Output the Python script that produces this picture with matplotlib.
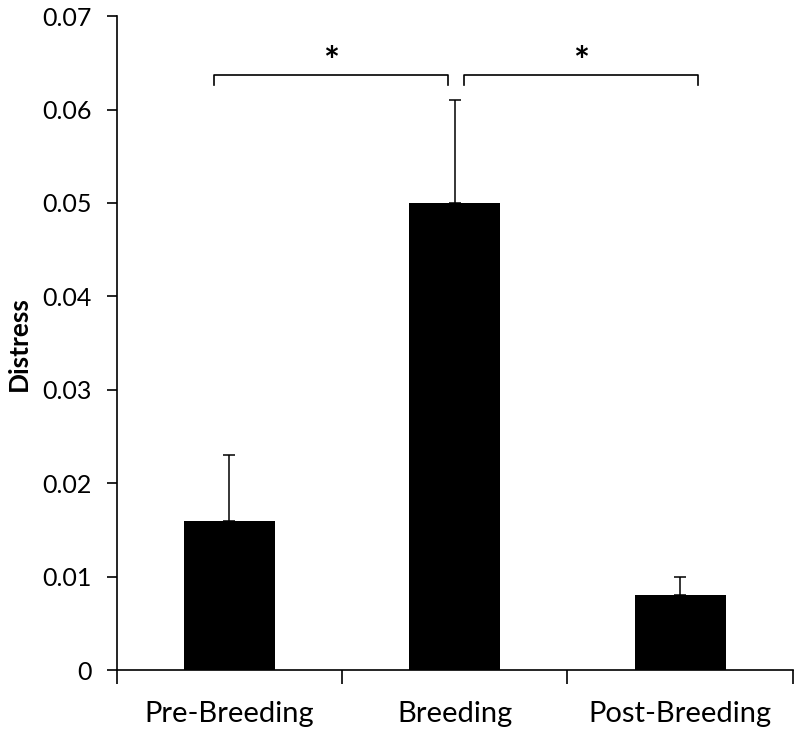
import matplotlib
matplotlib.use("Agg")
import matplotlib.pyplot as plt

categories = ["Pre-Breeding", "Breeding", "Post-Breeding"]
values = [0.016, 0.050, 0.008]
errors = [0.007, 0.011, 0.002]
y_ticks = [0, 0.01, 0.02, 0.03, 0.04, 0.05, 0.06, 0.07]
y_tick_labels = ["0", "0.01", "0.02", "0.03", "0.04", "0.05", "0.06", "0.07"]
y_label = "Distress"
# significance brackets: (x_start, x_end, star x)
brackets = [(-0.07, 0.97, 0.45), (1.04, 2.08, 1.56)]
bracket_y = 0.0637
bracket_tick = 0.0011
star_y = 0.0650

plt.rcParams['font.family'] = ['Lato', 'DejaVu Sans']

fig = plt.figure(figsize=(8, 7.35), dpi=100)
ax = fig.add_axes([0.146, 0.0884, 0.845, 0.8896])

x = list(range(len(categories)))
lower = [0] * len(errors)
ax.bar(x, values, width=0.405, color='black',
       yerr=[lower, errors],
       error_kw=dict(ecolor='black', elinewidth=1.1, capsize=4.5, capthick=1.1))

ax.set_xlim(-0.5, 2.5)
ax.set_ylim(0, 0.07)
ax.set_yticks(y_ticks)
ax.set_yticklabels(y_tick_labels, fontsize=18)
ax.set_xticks(x)
ax.set_xticklabels(categories, fontsize=21)
ax.tick_params(axis='x', length=0, pad=22)
ax.set_xticks([-0.5, 0.5, 1.5, 2.5], minor=True)
ax.tick_params(axis='x', which='minor', length=10, width=1.2, direction='out')
ax.tick_params(axis='y', length=7, width=1.2, direction='out', pad=11)

for s in ['top', 'right']:
    ax.spines[s].set_visible(False)
for s in ['left', 'bottom']:
    ax.spines[s].set_linewidth(1.2)

ax.set_ylabel(y_label, fontsize=19, fontweight='bold', labelpad=8)

for x0, x1, xs in brackets:
    ax.plot([x0, x0, x1, x1],
            [bracket_y - bracket_tick, bracket_y, bracket_y, bracket_y - bracket_tick],
            color='black', lw=1.2, clip_on=False)
    ax.text(xs, star_y, "*", ha='center', va='center', fontsize=27, fontweight='bold')

fig.savefig("out.png", dpi=100)
